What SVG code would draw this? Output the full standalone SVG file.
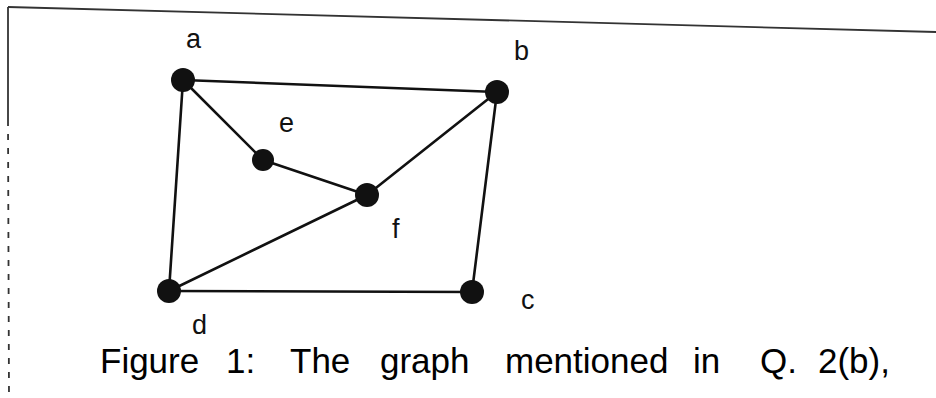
<svg xmlns="http://www.w3.org/2000/svg" width="936" height="398" viewBox="0 0 936 398">
<style>
.edge{stroke:#111;stroke-width:2.6;stroke-linecap:round}
.node{fill:#111}
.lbl{font-family:"Liberation Sans",Arial,sans-serif;font-size:27px;fill:#111}
.cap{font-family:"Liberation Sans",Arial,sans-serif;font-size:35px;fill:#000}
.frame{stroke:#333;stroke-width:1.8;fill:none}
</style>
<rect width="936" height="398" fill="#fff"/>
<g id="frame">
<line class="frame" x1="8" y1="7" x2="936" y2="32"/>
<line class="frame" x1="8" y1="7" x2="8" y2="120"/>
<line class="frame" x1="8" y1="120" x2="9" y2="398" stroke-dasharray="6 8"/>
</g>
<g id="connectors">
<line class="edge" x1="183" y1="80" x2="497" y2="92"/>
<line class="edge" x1="183" y1="80" x2="263" y2="160"/>
<line class="edge" x1="263" y1="160" x2="367" y2="195"/>
<line class="edge" x1="367" y1="195" x2="497" y2="92"/>
<line class="edge" x1="497" y1="92" x2="472" y2="292"/>
<line class="edge" x1="472" y1="292" x2="169" y2="291"/>
<line class="edge" x1="169" y1="291" x2="367" y2="195"/>
<line class="edge" x1="183" y1="80" x2="169" y2="291"/>
</g>
<g id="a"><circle class="node" cx="183" cy="80" r="12"/><text class="lbl" x="186" y="48">a</text></g>
<g id="b"><circle class="node" cx="497" cy="92" r="12"/><text class="lbl" x="514" y="60">b</text></g>
<g id="e"><circle class="node" cx="263" cy="160" r="11"/><text class="lbl" x="279" y="132">e</text></g>
<g id="f"><circle class="node" cx="367" cy="195" r="12"/><text class="lbl" x="392" y="238">f</text></g>
<g id="c"><circle class="node" cx="472" cy="292" r="12"/><text class="lbl" x="521" y="309">c</text></g>
<g id="d"><circle class="node" cx="169" cy="291" r="12"/><text class="lbl" x="192" y="334">d</text></g>
<g id="caption">
<text class="cap" x="100" y="373">Figure</text>
<text class="cap" x="226" y="373">1:</text>
<text class="cap" x="290" y="373">The</text>
<text class="cap" x="380" y="373">graph</text>
<text class="cap" x="505" y="373">mentioned</text>
<text class="cap" x="693" y="373">in</text>
<text class="cap" x="760" y="373">Q.</text>
<text class="cap" x="818" y="373">2(b),</text>
</g>
</svg>
